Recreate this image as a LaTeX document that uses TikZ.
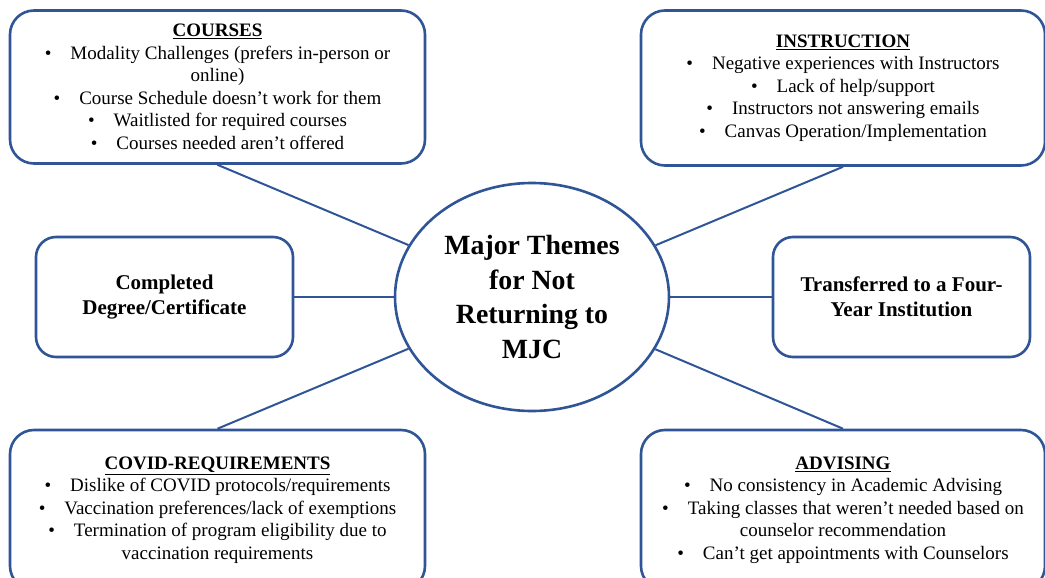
\documentclass[tikz,border=0pt]{standalone}
\usepackage{fontspec}
\setmainfont{Liberation Serif}
\usetikzlibrary{shapes,calc}
\definecolor{mjcblue}{RGB}{47,85,151}

\begin{document}
\begin{tikzpicture}[x=1pt,y=-1pt,
    box/.style={rectangle, rounded corners=24pt, draw=mjcblue, line width=2.6pt, fill=white, align=center, inner sep=0pt, font=\fontsize{19}{22.5}\selectfont},
    hub/.style={ellipse, draw=mjcblue, line width=2.6pt, fill=white, align=center, inner sep=0pt, font=\bfseries\fontsize{27.8}{34.5}\selectfont},
    link/.style={draw=mjcblue, line width=2pt}]
  \useasboundingbox (0,0) rectangle (1045,578);

  	\path (532,297) node[hub, minimum width=274pt, minimum height=228pt](theme){Major Themes\\ for Not\\ Returning to\\ MJC}
  		(217.5,87) node[box, minimum width=415pt, minimum height=153pt](courses){\underline{\textbf{COURSES}}\\
  			\textbullet\quad Modality Challenges (prefers in-person or\\ online)\\
  			\textbullet\quad Course Schedule doesn’t work for them\\
  			\textbullet\quad Waitlisted for required courses\\
  			\textbullet\quad Courses needed aren’t offered}
  		(843,88) node[box, minimum width=404pt, minimum height=155pt](instr){\underline{\textbf{INSTRUCTION}}\\
  			\textbullet\quad Negative experiences with Instructors\\
  			\textbullet\quad Lack of help/support\\
  			\textbullet\quad Instructors not answering emails\\
  			\textbullet\quad Canvas Operation/Implementation}
  		(164.5,297) node[box, rounded corners=20pt, minimum width=257pt, minimum height=120pt, font=\bfseries\fontsize{21}{25}\selectfont](degree){Completed\\ Degree/Certificate}
  		(901.5,297) node[box, rounded corners=20pt, minimum width=257pt, minimum height=120pt, font=\bfseries\fontsize{21}{25}\selectfont](transfer){Transferred to a Four-\\ Year Institution}
  		(217.5,510) node[box, minimum width=415pt, minimum height=160pt](covid){\underline{\textbf{COVID-REQUIREMENTS}}\\
  			\textbullet\quad Dislike of COVID protocols/requirements\\
  			\textbullet\quad Vaccination preferences/lack of exemptions\\
  			\textbullet\quad Termination of program eligibility due to\\ vaccination requirements}
  		(843,510) node[box, minimum width=404pt, minimum height=160pt](advis){\underline{\textbf{ADVISING}}\\
  			\textbullet\quad No consistency in Academic Advising\\
  			\textbullet\quad Taking classes that weren’t needed based on\\ counselor recommendation\\
  			\textbullet\quad Can’t get appointments with Counselors};

  	\draw[link](courses.south) -- (theme);
  	\draw[link](instr.south) -- (theme);
  	\draw[link](degree) -- (theme);
  	\draw[link](theme) -- (transfer);
  	\draw[link](covid.north) -- (theme);
  	\draw[link](advis.north) -- (theme);
\end{tikzpicture}
\end{document}
